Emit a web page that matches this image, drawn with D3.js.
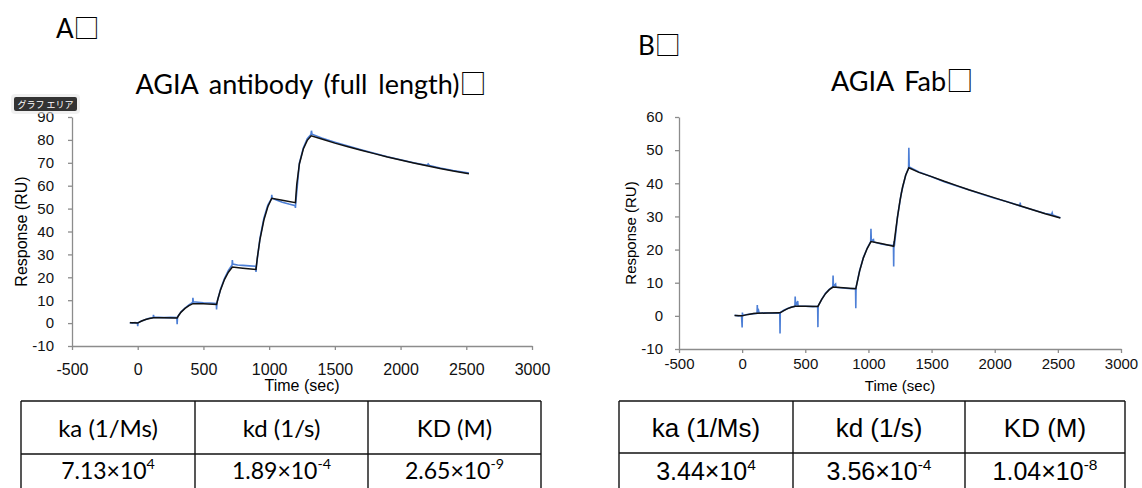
<!DOCTYPE html>
<html>
<head>
<meta charset="utf-8">
<script src="https://cdn.jsdelivr.net/npm/d3@7"></script>
<style>
  body { margin: 0; background: #fff; }
  svg { display: block; }
  .tick text { font-family: "Liberation Sans", Arial, sans-serif; fill: #111; }
  .axis path, .axis line { stroke: #8c8c8c; stroke-width: 1.3; }
</style>
</head>
<body>
<div id="chart"></div>
<script>
// sensorgram A: fitted curve (black) and measured trace (blue), [time sec, RU]
const fitA = [[-60,0.2],[-30,0.1],[0,0],[10,0.3],[30,0.9],[60,1.6],[90,2.0],[120,2.3],[200,2.3],[300,2.2],
  [310,3.2],[330,4.8],[360,6.4],[390,7.6],[420,8.5],[500,8.4],[600,8.1],[610,10.5],[630,14.5],[660,19.0],
  [690,22.2],[720,24.5],[800,24.0],[900,23.4],[910,28.5],[930,36.5],[960,45.0],[990,50.8],[1020,54.5],
  [1100,53.6],[1200,52.6],[1210,60.5],[1230,69.5],[1260,76.0],[1290,79.8],[1320,81.8],[1400,80.4],
  [1500,78.6],[1600,77.0],[1700,75.5],[1800,74.0],[1900,72.5],[2000,71.2],[2100,69.9],[2200,68.7],
  [2300,67.5],[2400,66.4],[2520,65.2]];
const dataA = [[-60,0.3],[-40,0.0],[-20,0.2],[-2,0.1],[0,-1.3],[3,0.2],[20,0.7],[50,1.4],[80,2.0],[110,2.3],
  [118,2.5],[120,3.6],[123,2.6],[160,2.5],[200,2.4],[250,2.5],[298,2.4],[300,-0.5],[303,2.8],[330,4.9],
  [360,6.6],[390,8.0],[418,9.0],[420,11.0],[423,9.3],[460,9.1],[500,8.9],[550,8.8],[598,8.6],[600,6.0],
  [603,9.0],[630,14.8],[660,19.5],[690,23.0],[718,25.4],[720,27.5],[723,25.8],[760,25.4],[800,25.2],
  [850,25.0],[898,24.8],[900,22.3],[903,25.0],[930,37.0],[960,45.8],[990,51.5],[1018,54.3],[1020,56.0],
  [1023,54.5],[1060,53.6],[1100,52.8],[1150,52.0],[1198,51.3],[1200,50.3],[1203,52.8],[1230,69.8],
  [1260,76.5],[1290,80.5],[1318,82.3],[1322,84.0],[1326,82.5],[1400,80.8],[1500,79.0],[1600,77.3],
  [1700,75.7],[1800,74.2],[1900,72.6],[2000,71.3],[2100,70.0],[2200,68.9],[2210,69.5],[2220,68.8],
  [2300,67.7],[2400,66.6],[2520,65.5]];

// sensorgram B
const fitB = [[-60,0.1],[0,0],[30,0.3],[60,0.5],[90,0.7],[120,0.8],[200,0.85],[300,0.9],[330,1.6],[360,2.2],
  [390,2.6],[420,2.9],[500,2.9],[600,2.85],[630,5.0],[660,6.7],[690,7.9],[720,8.7],[800,8.5],[900,8.2],
  [930,13.5],[960,17.5],[990,20.3],[1020,22.4],[1100,21.8],[1200,21.0],[1215,25.5],[1230,29.8],[1250,34.8],
  [1270,38.8],[1295,42.4],[1320,44.7],[1400,43.3],[1500,42.0],[1600,40.6],[1700,39.3],[1800,38.0],
  [1900,36.8],[2000,35.6],[2100,34.4],[2200,33.2],[2300,32.0],[2400,30.8],[2520,29.5]];
const dataB = [[-60,0.2],[-30,0.0],[-5,0.1],[0,-3.5],[2,1.0],[5,0.1],[40,0.4],[80,0.6],[118,0.8],[120,3.3],
  [122,0.9],[130,1.6],[135,0.8],[180,0.9],[240,0.8],[298,0.9],[300,-5.3],[302,1.0],[330,1.7],[360,2.2],
  [390,2.7],[418,2.9],[420,5.8],[423,3.0],[440,4.5],[443,2.9],[500,2.9],[560,2.8],[598,2.9],[600,-3.4],
  [602,3.0],[630,5.0],[660,6.8],[690,8.0],[718,8.8],[720,12.2],[723,8.9],[740,9.6],[743,8.6],[800,8.4],
  [860,8.2],[898,8.3],[900,2.3],[902,8.5],[930,13.6],[960,17.6],[990,20.4],[1018,22.4],[1020,26.3],
  [1023,22.6],[1040,23.0],[1043,22.3],[1100,21.7],[1160,21.3],[1198,21.3],[1200,14.9],[1202,22.5],
  [1205,21.0],[1230,29.8],[1260,37.0],[1295,42.5],[1318,44.5],[1320,50.7],[1323,44.9],[1400,43.4],
  [1500,42.0],[1600,40.5],[1700,39.2],[1800,38.0],[1900,36.7],[2000,35.5],[2100,34.4],[2200,33.2],
  [2202,34.2],[2205,33.1],[2300,32.0],[2400,30.9],[2450,30.6],[2455,31.1],[2460,30.4],[2520,29.6]];

// axis ticks
const xTicks = [-500, 0, 500, 1000, 1500, 2000, 2500, 3000];
const yTicksA = [-10, 0, 10, 20, 30, 40, 50, 60, 70, 80, 90];
const yTicksB = [-10, 0, 10, 20, 30, 40, 50, 60];

// kinetic tables
const tableHead = ["ka (1/Ms)", "kd (1/s)", "KD (M)"];
const mantA = ["7.13", "1.89", "2.65"];
const expA = ["4", "-4", "-9"];
const mantB = ["3.44", "3.56", "1.04"];
const expB = ["4", "-4", "-8"];

const width = 1142, height = 488;
const svg = d3.select("#chart").append("svg")
    .attr("width", width)
    .attr("height", height);

const titleFont = "Lato, 'Open Sans', sans-serif";
const arial = "'Liberation Sans', Arial, sans-serif";
const plain = d => String(d);   // "-500", "1500": no commas, ascii minus

// heading text followed by the large empty box the source shows
function boxedText(sel, label) {
    sel.append("tspan").text(label);
    sel.append("tspan")
        .style("font-family", "'Noto Sans CJK JP', sans-serif")
        .text("\u25A1");
}

function drawPanel(p) {
    const x = d3.scaleLinear().domain([-500, 3000]).range(p.xRange);
    const y = d3.scaleLinear().domain(p.yDomain).range(p.yRange);

    const xAxis = svg.append("g")
        .attr("class", "axis")
        .attr("transform", `translate(0,${p.yRange[0]})`)
        .call(d3.axisBottom(x).tickValues(xTicks).tickFormat(plain)
            .tickSize(4).tickSizeOuter(0).tickPadding(p.xPad));
    xAxis.selectAll(".tick text").style("font-size", p.xFont + "px");

    const yAxis = svg.append("g")
        .attr("class", "axis")
        .attr("transform", `translate(${p.xRange[0]},0)`)
        .call(d3.axisLeft(y).tickValues(p.yTicks).tickFormat(plain)
            .tickSize(4).tickSizeOuter(0).tickPadding(p.yPad));
    yAxis.selectAll(".tick text").style("font-size", p.yFont + "px");

    const line = d3.line().x(d => x(d[0])).y(d => y(d[1]));

    svg.append("path")
        .datum(p.data)
        .attr("fill", "none")
        .attr("stroke", "#4d7fd6")
        .attr("stroke-width", 1.6)
        .attr("d", line);

    svg.append("path")
        .datum(p.fit)
        .attr("fill", "none")
        .attr("stroke", "#111")
        .attr("stroke-width", 1.5)
        .attr("d", line);

    // axis titles
    svg.append("text")
        .attr("x", d3.mean(p.xRange))
        .attr("y", p.xTitleY)
        .attr("text-anchor", "middle")
        .style("font-family", arial)
        .style("font-size", p.titleSize + "px")
        .text("Time (sec)");

    svg.append("text")
        .attr("transform", `translate(${p.yTitleX},${d3.mean(p.yRange)}) rotate(-90)`)
        .attr("text-anchor", "middle")
        .style("font-family", arial)
        .style("font-size", p.titleSize + "px")
        .text("Response (RU)");

    // panel letter and heading
    svg.append("text")
        .attr("x", p.letterX).attr("y", p.letterY)
        .style("font-family", titleFont)
        .style("font-size", "26px")
        .call(boxedText, p.letter);

    svg.append("text")
        .attr("x", p.headX).attr("y", p.headY)
        .attr("text-anchor", "middle")
        .style("font-family", titleFont)
        .style("font-size", "27px")
        .style("word-spacing", "4px")
        .call(boxedText, p.heading);
}

drawPanel({
    xRange: [72, 532], yDomain: [-10, 90], yRange: [346, 117],
    yTicks: yTicksA, data: dataA, fit: fitA,
    xFont: 16, yFont: 15, xPad: 14, yPad: 14, titleSize: 16,
    xTitleY: 391, yTitleX: 27,
    letter: "A", letterX: 56, letterY: 38,
    heading: "AGIA antibody (full length)", headX: 311, headY: 94
});

drawPanel({
    xRange: [679, 1121], yDomain: [-10, 60], yRange: [349, 117],
    yTicks: yTicksB, data: dataB, fit: fitB,
    xFont: 15, yFont: 15, xPad: 5, yPad: 12, titleSize: 15,
    xTitleY: 391, yTitleX: 636,
    letter: "B", letterX: 638, letterY: 55,
    heading: "AGIA Fab", headX: 902, headY: 91
});

// "グラフ エリア" tooltip left over from the spreadsheet
const tip = svg.append("g").attr("transform", "translate(14,97)");
tip.append("rect")
    .attr("x", -3).attr("y", -3).attr("width", 69).attr("height", 20)
    .attr("rx", 4).attr("fill", "#e6e6e6").attr("opacity", 0.6);
tip.append("rect")
    .attr("width", 63).attr("height", 14).attr("rx", 2)
    .attr("fill", "#333");
tip.append("text")
    .attr("x", 31.5).attr("y", 10.5)
    .attr("text-anchor", "middle")
    .style("font-family", "'Noto Sans CJK JP', sans-serif")
    .style("font-size", "9px")
    .attr("fill", "#fff")
    .text("グラフ エリア");

// tables
function drawTable(t) {
    const g = svg.append("g");
    const cols = t.cols;
    const stroke = "#111";
    g.append("line").attr("x1", cols[0]).attr("x2", cols[3]).attr("y1", t.top).attr("y2", t.top)
        .attr("stroke", stroke).attr("stroke-width", 1.4);
    g.append("line").attr("x1", cols[0]).attr("x2", cols[3]).attr("y1", t.mid).attr("y2", t.mid)
        .attr("stroke", stroke).attr("stroke-width", 1.4);
    g.selectAll("line.v").data(cols).enter().append("line")
        .attr("class", "v")
        .attr("x1", d => d).attr("x2", d => d)
        .attr("y1", t.top).attr("y2", height)
        .attr("stroke", stroke).attr("stroke-width", 1.4);

    const centers = d3.range(3).map(i => (cols[i] + cols[i + 1]) / 2);

    g.selectAll("text.head").data(tableHead).enter().append("text")
        .attr("class", "head")
        .attr("x", (d, i) => centers[i])
        .attr("y", t.headY)
        .attr("text-anchor", "middle")
        .style("font-family", t.font)
        .style("font-size", t.size + "px")
        .text(d => d);

    const vals = g.selectAll("text.val").data(t.mant).enter().append("text")
        .attr("class", "val")
        .attr("x", (d, i) => centers[i])
        .attr("y", t.valY)
        .attr("text-anchor", "middle")
        .style("font-family", t.font)
        .style("font-size", t.vsize + "px");
    vals.append("tspan").text(d => d + "\u00D710");
    vals.append("tspan")
        .attr("dy", -t.vsize * 0.42)
        .style("font-size", (t.vsize * 0.62) + "px")
        .text((d, i) => t.exp[i]);
}

drawTable({
    cols: [21, 195, 368, 541], top: 401, mid: 454,
    headY: 437, valY: 479, font: titleFont, size: 24, vsize: 23,
    mant: mantA, exp: expA
});

drawTable({
    cols: [619, 793, 965, 1125], top: 401, mid: 453,
    headY: 437, valY: 480, font: arial, size: 26, vsize: 25,
    mant: mantB, exp: expB
});
</script>
</body>
</html>
